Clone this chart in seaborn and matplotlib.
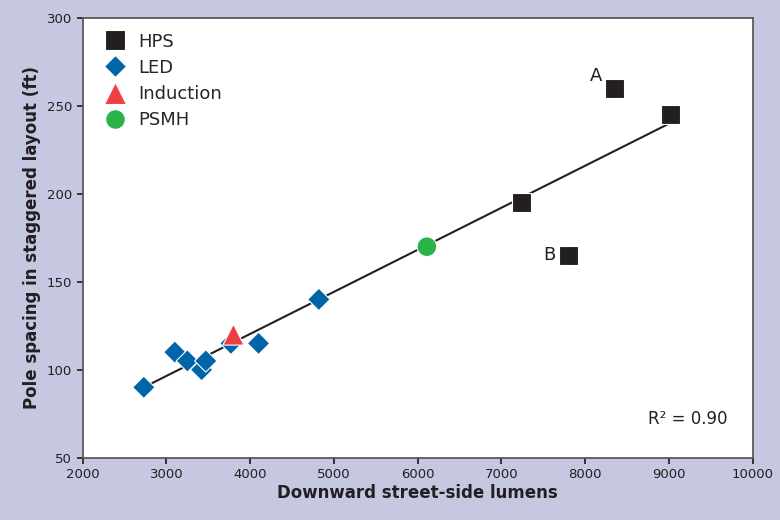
import matplotlib
matplotlib.use('Agg')
import matplotlib.pyplot as plt
import seaborn as sns
import pandas as pd

hps_x = [8350, 9020, 7240, 7800]
hps_y = [260, 245, 195, 165]
led_x = [2730, 3100, 3250, 3420, 3470, 3770, 4100, 4820]
led_y = [90, 110, 105, 100, 105, 115, 115, 140]
ind_x = [3800]
ind_y = [120]
psmh_x = [6110]
psmh_y = [170]
fit_x = [2730, 9000]
fit_y = [90, 240]

df = pd.concat([
    pd.DataFrame({"x": hps_x, "y": hps_y, "type": "HPS"}),
    pd.DataFrame({"x": led_x, "y": led_y, "type": "LED"}),
    pd.DataFrame({"x": ind_x, "y": ind_y, "type": "Induction"}),
    pd.DataFrame({"x": psmh_x, "y": psmh_y, "type": "PSMH"}),
])

sns.set_theme(style="white")
plt.rcParams['font.family'] = ['DejaVu Sans']

fig, ax = plt.subplots(figsize=(7.8, 5.2), dpi=100)
fig.patch.set_facecolor('#c5c8e0')
fig.subplots_adjust(left=0.106, right=0.965, top=0.965, bottom=0.12)

ax.plot(fit_x, fit_y, color='#231f20', lw=1.5, zorder=1)
sns.scatterplot(data=df, x="x", y="y", hue="type", style="type", size="type",
                palette={"HPS": "#231f20", "LED": "#0064a8", "Induction": "#ef3e42", "PSMH": "#2bb34b"},
                markers={"HPS": "s", "LED": "D", "Induction": "^", "PSMH": "o"},
                sizes={"HPS": 190, "LED": 130, "Induction": 230, "PSMH": 200},
                edgecolor='white', linewidth=0.8, ax=ax, zorder=2)

ax.text(8200, 262, "A", fontsize=13, ha='right', va='bottom', color='#231f20')
ax.text(7650, 165, "B", fontsize=13, ha='right', va='center', color='#231f20')
ax.text(9700, 72, "R² = 0.90", fontsize=12, ha='right', va='center', color='#231f20')

ax.set_xlim(2000, 10000)
ax.set_ylim(50, 300)
ax.set_xticks(range(2000, 10001, 1000))
ax.set_yticks(range(50, 301, 50))
ax.tick_params(labelsize=9.5, colors='#231f20', length=4, direction='out', bottom=True, left=True)
ax.set_xlabel("Downward street-side lumens", fontsize=12, fontweight='bold', color='#231f20', labelpad=2)
ax.set_ylabel("Pole spacing in staggered layout (ft)", fontsize=12, fontweight='bold', color='#231f20')
for s in ax.spines.values():
    s.set_color('#555555')

leg = ax.legend(loc='upper left', frameon=False, fontsize=13, handletextpad=0.3,
                labelspacing=0.45, borderaxespad=0.4, markerscale=1.0)

fig.savefig("out.png", dpi=100, facecolor=fig.get_facecolor())
